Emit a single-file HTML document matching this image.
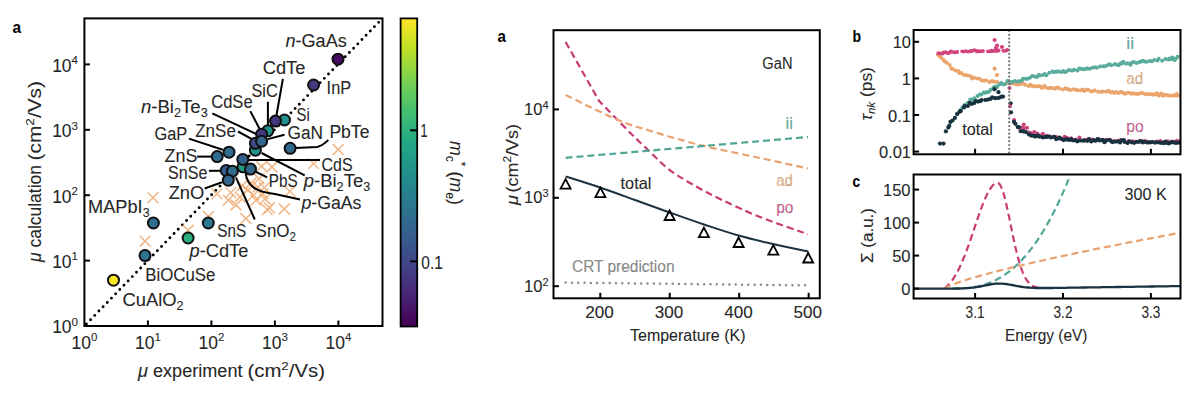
<!DOCTYPE html>
<html><head><meta charset="utf-8"><style>
html,body{margin:0;padding:0;background:#fff;}
svg{display:block;font-family:'Liberation Sans', sans-serif;} text{stroke:#262626;stroke-width:0.08px;}
</style></head><body>
<svg width="1200" height="397" viewBox="0 0 1200 397">
<rect width="1200" height="397" fill="#fff"/>
<text x="12.4" y="33.4" font-size="17" text-anchor="start" fill="#000" stroke="#000" textLength="8.6" lengthAdjust="spacingAndGlyphs" font-weight="bold">a</text>
<line x1="86.4" y1="324.0" x2="380.5" y2="20.4" stroke="#000" stroke-width="2.9" stroke-linecap="round" stroke-dasharray="0 6"/>
<path d="M147.6 192.29999999999998L158.4 203.1M147.6 203.1L158.4 192.29999999999998" stroke="#eea66c" stroke-width="1.5" stroke-opacity="0.8" fill="none"/>
<path d="M139.6 235.79999999999998L150.4 246.6M139.6 246.6L150.4 235.79999999999998" stroke="#eea66c" stroke-width="1.5" stroke-opacity="0.8" fill="none"/>
<path d="M182.7 224.9L193.5 235.70000000000002M182.7 235.70000000000002L193.5 224.9" stroke="#eea66c" stroke-width="1.5" stroke-opacity="0.8" fill="none"/>
<path d="M203.1 211.1L213.9 221.9M203.1 221.9L213.9 211.1" stroke="#eea66c" stroke-width="1.5" stroke-opacity="0.8" fill="none"/>
<path d="M332.8 144.1L343.59999999999997 154.9M332.8 154.9L343.59999999999997 144.1" stroke="#eea66c" stroke-width="1.5" stroke-opacity="0.8" fill="none"/>
<path d="M308.1 158.2L318.9 169.0M308.1 169.0L318.9 158.2" stroke="#eea66c" stroke-width="1.5" stroke-opacity="0.8" fill="none"/>
<path d="M266.6 161.6L277.4 172.4M266.6 172.4L277.4 161.6" stroke="#eea66c" stroke-width="1.5" stroke-opacity="0.8" fill="none"/>
<path d="M256.20000000000005 161.1L267.0 171.9M256.20000000000005 171.9L267.0 161.1" stroke="#eea66c" stroke-width="1.5" stroke-opacity="0.8" fill="none"/>
<path d="M253.70000000000002 173.4L264.5 184.20000000000002M253.70000000000002 184.20000000000002L264.5 173.4" stroke="#eea66c" stroke-width="1.5" stroke-opacity="0.8" fill="none"/>
<path d="M236.7 180.29999999999998L247.5 191.1M236.7 191.1L247.5 180.29999999999998" stroke="#eea66c" stroke-width="1.5" stroke-opacity="0.8" fill="none"/>
<path d="M242.4 184.7L253.20000000000002 195.5M242.4 195.5L253.20000000000002 184.7" stroke="#eea66c" stroke-width="1.5" stroke-opacity="0.8" fill="none"/>
<path d="M258.8 182.2L269.59999999999997 193.0M258.8 193.0L269.59999999999997 182.2" stroke="#eea66c" stroke-width="1.5" stroke-opacity="0.8" fill="none"/>
<path d="M248.1 189.79999999999998L258.9 200.6M248.1 200.6L258.9 189.79999999999998" stroke="#eea66c" stroke-width="1.5" stroke-opacity="0.8" fill="none"/>
<path d="M257.5 188.5L268.29999999999995 199.3M257.5 199.3L268.29999999999995 188.5" stroke="#eea66c" stroke-width="1.5" stroke-opacity="0.8" fill="none"/>
<path d="M250.6 194.79999999999998L261.4 205.6M250.6 205.6L261.4 194.79999999999998" stroke="#eea66c" stroke-width="1.5" stroke-opacity="0.8" fill="none"/>
<path d="M222.9 194.79999999999998L233.70000000000002 205.6M222.9 205.6L233.70000000000002 194.79999999999998" stroke="#eea66c" stroke-width="1.5" stroke-opacity="0.8" fill="none"/>
<path d="M211.5 188.5L222.3 199.3M211.5 199.3L222.3 188.5" stroke="#eea66c" stroke-width="1.5" stroke-opacity="0.8" fill="none"/>
<path d="M225.4 187.2L236.20000000000002 198.0M225.4 198.0L236.20000000000002 187.2" stroke="#eea66c" stroke-width="1.5" stroke-opacity="0.8" fill="none"/>
<path d="M261.90000000000003 204.2L272.7 215.0M261.90000000000003 215.0L272.7 204.2" stroke="#eea66c" stroke-width="1.5" stroke-opacity="0.8" fill="none"/>
<path d="M278.90000000000003 203.6L289.7 214.4M278.90000000000003 214.4L289.7 203.6" stroke="#eea66c" stroke-width="1.5" stroke-opacity="0.8" fill="none"/>
<path d="M240.5 213.1L251.3 223.9M240.5 223.9L251.3 213.1" stroke="#eea66c" stroke-width="1.5" stroke-opacity="0.8" fill="none"/>
<path d="M284.6 186.0L295.4 196.8M284.6 196.8L295.4 186.0" stroke="#eea66c" stroke-width="1.5" stroke-opacity="0.8" fill="none"/>
<path d="M264.1 202.5L274.9 213.3M264.1 213.3L274.9 202.5" stroke="#eea66c" stroke-width="1.5" stroke-opacity="0.8" fill="none"/>
<path d="M245.6 177.6L256.4 188.4M245.6 188.4L256.4 177.6" stroke="#eea66c" stroke-width="1.5" stroke-opacity="0.8" fill="none"/>
<path d="M252.6 181.6L263.4 192.4M252.6 192.4L263.4 181.6" stroke="#eea66c" stroke-width="1.5" stroke-opacity="0.8" fill="none"/>
<path d="M259.6 193.6L270.4 204.4M259.6 204.4L270.4 193.6" stroke="#eea66c" stroke-width="1.5" stroke-opacity="0.8" fill="none"/>
<path d="M234.6 191.6L245.4 202.4M234.6 202.4L245.4 191.6" stroke="#eea66c" stroke-width="1.5" stroke-opacity="0.8" fill="none"/>
<path d="M230.6 199.6L241.4 210.4M230.6 210.4L241.4 199.6" stroke="#eea66c" stroke-width="1.5" stroke-opacity="0.8" fill="none"/>
<line x1="212.3" y1="113.4" x2="256.8" y2="134.3" stroke="#000" stroke-width="2.0" />
<line x1="250.3" y1="111.1" x2="259.5" y2="128.7" stroke="#000" stroke-width="2.0" />
<line x1="267.9" y1="101.7" x2="267.9" y2="126" stroke="#000" stroke-width="2.0" />
<line x1="282.9" y1="78.8" x2="276.0" y2="118" stroke="#000" stroke-width="2.0" />
<line x1="238" y1="131.5" x2="251.9" y2="139.1" stroke="#000" stroke-width="2.0" />
<line x1="284.5" y1="134.7" x2="267.8" y2="139.1" stroke="#000" stroke-width="2.0" />
<line x1="188.9" y1="138.6" x2="222.7" y2="149.7" stroke="#000" stroke-width="2.0" />
<line x1="197.1" y1="156.6" x2="217" y2="156.6" stroke="#000" stroke-width="2.0" />
<line x1="208.9" y1="170.8" x2="226" y2="170.8" stroke="#000" stroke-width="2.0" />
<line x1="204.7" y1="188.5" x2="222" y2="182.3" stroke="#000" stroke-width="2.0" />
<line x1="250.5" y1="169.1" x2="267.1" y2="177.4" stroke="#000" stroke-width="2.0" />
<line x1="247" y1="159.9" x2="320" y2="159.9" stroke="#000" stroke-width="2.0" />
<line x1="261.6" y1="153" x2="304.7" y2="175.4" stroke="#000" stroke-width="2.0" />
<path d="M245.6 172.6 C247 186 256 192 275 194 L300 199.5" fill="none" stroke="#000" stroke-width="2.0" />
<line x1="235.9" y1="177.4" x2="254.8" y2="219.5" stroke="#000" stroke-width="2.0" />
<path d="M290 148.3 L317.2 146.9 C322 146 325 143 328.3 140" fill="none" stroke="#000" stroke-width="2.0" />
<circle cx="338" cy="59.2" r="5.5" fill="#450c5e" stroke="#111" stroke-width="2.0"/>
<circle cx="313.6" cy="85" r="5.5" fill="#433a82" stroke="#111" stroke-width="2.0"/>
<circle cx="284.5" cy="120" r="5.5" fill="#21918c" stroke="#111" stroke-width="2.0"/>
<circle cx="275.5" cy="121.1" r="5.5" fill="#44347e" stroke="#111" stroke-width="2.0"/>
<circle cx="267.8" cy="130.8" r="5.5" fill="#21918c" stroke="#111" stroke-width="2.0"/>
<circle cx="261.6" cy="134.3" r="5.5" fill="#433a82" stroke="#111" stroke-width="2.0"/>
<circle cx="255.4" cy="150.2" r="5.5" fill="#21918c" stroke="#111" stroke-width="2.0"/>
<circle cx="255.4" cy="143.3" r="5.5" fill="#3f4988" stroke="#111" stroke-width="2.0"/>
<circle cx="261.6" cy="141.2" r="5.5" fill="#32668d" stroke="#111" stroke-width="2.0"/>
<circle cx="290.1" cy="148.3" r="5.5" fill="#32668d" stroke="#111" stroke-width="2.0"/>
<circle cx="229" cy="152.2" r="5.5" fill="#306c8e" stroke="#111" stroke-width="2.0"/>
<circle cx="217.2" cy="156.6" r="5.5" fill="#306c8e" stroke="#111" stroke-width="2.0"/>
<circle cx="243" cy="166.8" r="5.5" fill="#229c88" stroke="#111" stroke-width="2.0"/>
<circle cx="242.8" cy="159.4" r="5.5" fill="#355f8d" stroke="#111" stroke-width="2.0"/>
<circle cx="250.5" cy="169.1" r="5.5" fill="#32668d" stroke="#111" stroke-width="2.0"/>
<circle cx="226.2" cy="170.5" r="5.5" fill="#355f8d" stroke="#111" stroke-width="2.0"/>
<circle cx="232.4" cy="171.2" r="5.5" fill="#306c8e" stroke="#111" stroke-width="2.0"/>
<circle cx="228.3" cy="180.2" r="5.5" fill="#32668d" stroke="#111" stroke-width="2.0"/>
<circle cx="153.4" cy="223" r="5.5" fill="#306c8e" stroke="#111" stroke-width="2.0"/>
<circle cx="208.3" cy="223" r="5.5" fill="#2a788e" stroke="#111" stroke-width="2.0"/>
<circle cx="188.1" cy="238" r="5.5" fill="#2caf7e" stroke="#111" stroke-width="2.0"/>
<circle cx="145" cy="255.6" r="5.5" fill="#2c738e" stroke="#111" stroke-width="2.0"/>
<circle cx="113.5" cy="280.2" r="5.5" fill="#fde725" stroke="#111" stroke-width="2.0"/>
<text x="285.4" y="46.5" font-size="17.5" text-anchor="start" fill="#262626" stroke="#262626" textLength="61.4" lengthAdjust="spacingAndGlyphs" ><tspan font-style="italic">n</tspan>-GaAs</text>
<text x="326.6" y="94" font-size="17.5" text-anchor="start" fill="#262626" stroke="#262626" textLength="24.5" lengthAdjust="spacingAndGlyphs" >InP</text>
<text x="262.7" y="73.5" font-size="17.5" text-anchor="start" fill="#262626" stroke="#262626" textLength="42.7" lengthAdjust="spacingAndGlyphs" >CdTe</text>
<text x="251.5" y="97.1" font-size="17.5" text-anchor="start" fill="#262626" stroke="#262626" textLength="26.2" lengthAdjust="spacingAndGlyphs" >SiC</text>
<text x="296.5" y="121.4" font-size="17.5" text-anchor="start" fill="#262626" stroke="#262626" textLength="13.2" lengthAdjust="spacingAndGlyphs" >Si</text>
<text x="211.2" y="107.9" font-size="17.5" text-anchor="start" fill="#262626" stroke="#262626" textLength="41.4" lengthAdjust="spacingAndGlyphs" >CdSe</text>
<text x="141.0" y="113.4" font-size="17.5" text-anchor="start" fill="#262626" stroke="#262626" textLength="66.8" lengthAdjust="spacingAndGlyphs" ><tspan font-style="italic">n</tspan>-Bi<tspan font-size="12" dy="4">2</tspan><tspan dy="-4">Te</tspan><tspan font-size="12" dy="4">3</tspan></text>
<text x="154.5" y="140.2" font-size="17.5" text-anchor="start" fill="#262626" stroke="#262626" textLength="32.8" lengthAdjust="spacingAndGlyphs" >GaP</text>
<text x="195.2" y="136.7" font-size="17.5" text-anchor="start" fill="#262626" stroke="#262626" textLength="40.7" lengthAdjust="spacingAndGlyphs" >ZnSe</text>
<text x="287.5" y="139" font-size="17.5" text-anchor="start" fill="#262626" stroke="#262626" textLength="35.5" lengthAdjust="spacingAndGlyphs" >GaN</text>
<text x="329.4" y="138.3" font-size="17.5" text-anchor="start" fill="#262626" stroke="#262626" textLength="40.0" lengthAdjust="spacingAndGlyphs" >PbTe</text>
<text x="164.5" y="161.9" font-size="17.5" text-anchor="start" fill="#262626" stroke="#262626" textLength="32.9" lengthAdjust="spacingAndGlyphs" >ZnS</text>
<text x="168.1" y="178.5" font-size="17.5" text-anchor="start" fill="#262626" stroke="#262626" textLength="39.2" lengthAdjust="spacingAndGlyphs" >SnSe</text>
<text x="321.6" y="171.2" font-size="17.5" text-anchor="start" fill="#262626" stroke="#262626" textLength="31.0" lengthAdjust="spacingAndGlyphs" >CdS</text>
<text x="168.7" y="198.8" font-size="17.5" text-anchor="start" fill="#262626" stroke="#262626" textLength="35.6" lengthAdjust="spacingAndGlyphs" >ZnO</text>
<text x="268.7" y="187.2" font-size="17.5" text-anchor="start" fill="#262626" stroke="#262626" textLength="28.9" lengthAdjust="spacingAndGlyphs" >PbS</text>
<text x="303.7" y="187.2" font-size="17.5" text-anchor="start" fill="#262626" stroke="#262626" textLength="66.6" lengthAdjust="spacingAndGlyphs" ><tspan font-style="italic">p</tspan>-Bi<tspan font-size="12" dy="4">2</tspan><tspan dy="-4">Te</tspan><tspan font-size="12" dy="4">3</tspan></text>
<text x="301.4" y="209" font-size="17.5" text-anchor="start" fill="#262626" stroke="#262626" textLength="60.1" lengthAdjust="spacingAndGlyphs" ><tspan font-style="italic">p</tspan>-GaAs</text>
<text x="88.0" y="212.8" font-size="17.5" text-anchor="start" fill="#262626" stroke="#262626" textLength="61.6" lengthAdjust="spacingAndGlyphs" >MAPbI<tspan font-size="12" dy="4">3</tspan></text>
<text x="217.2" y="237.4" font-size="17.5" text-anchor="start" fill="#262626" stroke="#262626" textLength="28.9" lengthAdjust="spacingAndGlyphs" >SnS</text>
<text x="255.6" y="236.8" font-size="17.5" text-anchor="start" fill="#262626" stroke="#262626" textLength="40.4" lengthAdjust="spacingAndGlyphs" >SnO<tspan font-size="12" dy="4">2</tspan></text>
<text x="189.5" y="257" font-size="17.5" text-anchor="start" fill="#262626" stroke="#262626" textLength="58.8" lengthAdjust="spacingAndGlyphs" ><tspan font-style="italic">p</tspan>-CdTe</text>
<text x="145.2" y="281" font-size="17.5" text-anchor="start" fill="#262626" stroke="#262626" textLength="70.2" lengthAdjust="spacingAndGlyphs" >BiOCuSe</text>
<text x="122.5" y="305.6" font-size="17.5" text-anchor="start" fill="#262626" stroke="#262626" textLength="61.1" lengthAdjust="spacingAndGlyphs" >CuAlO<tspan font-size="12" dy="4">2</tspan></text>
<rect x="84.4" y="18.4" width="298.1" height="307.6" fill="none" stroke="#000" stroke-width="2"/>
<line x1="147.9" y1="326.0" x2="147.9" y2="320.5" stroke="#000" stroke-width="2" />
<line x1="84.4" y1="260.6" x2="89.9" y2="260.6" stroke="#000" stroke-width="2" />
<line x1="211.4" y1="326.0" x2="211.4" y2="320.5" stroke="#000" stroke-width="2" />
<line x1="84.4" y1="195.2" x2="89.9" y2="195.2" stroke="#000" stroke-width="2" />
<line x1="274.9" y1="326.0" x2="274.9" y2="320.5" stroke="#000" stroke-width="2" />
<line x1="84.4" y1="129.79999999999998" x2="89.9" y2="129.79999999999998" stroke="#000" stroke-width="2" />
<line x1="338.4" y1="326.0" x2="338.4" y2="320.5" stroke="#000" stroke-width="2" />
<line x1="84.4" y1="64.39999999999998" x2="89.9" y2="64.39999999999998" stroke="#000" stroke-width="2" />
<text x="78" y="333.3" font-size="17.5" text-anchor="end" fill="#262626">10<tspan font-size="11.5" dy="-7.5">0</tspan></text>
<text x="84.4" y="348.7" font-size="17.5" text-anchor="middle" fill="#262626">10<tspan font-size="11.5" dy="-7.5">0</tspan></text>
<text x="78" y="267.90000000000003" font-size="17.5" text-anchor="end" fill="#262626">10<tspan font-size="11.5" dy="-7.5">1</tspan></text>
<text x="147.9" y="348.7" font-size="17.5" text-anchor="middle" fill="#262626">10<tspan font-size="11.5" dy="-7.5">1</tspan></text>
<text x="78" y="202.5" font-size="17.5" text-anchor="end" fill="#262626">10<tspan font-size="11.5" dy="-7.5">2</tspan></text>
<text x="211.4" y="348.7" font-size="17.5" text-anchor="middle" fill="#262626">10<tspan font-size="11.5" dy="-7.5">2</tspan></text>
<text x="78" y="137.1" font-size="17.5" text-anchor="end" fill="#262626">10<tspan font-size="11.5" dy="-7.5">3</tspan></text>
<text x="274.9" y="348.7" font-size="17.5" text-anchor="middle" fill="#262626">10<tspan font-size="11.5" dy="-7.5">3</tspan></text>
<text x="78" y="71.69999999999997" font-size="17.5" text-anchor="end" fill="#262626">10<tspan font-size="11.5" dy="-7.5">4</tspan></text>
<text x="338.4" y="348.7" font-size="17.5" text-anchor="middle" fill="#262626">10<tspan font-size="11.5" dy="-7.5">4</tspan></text>
<text x="138" y="377.4" font-size="17.5" text-anchor="start" fill="#262626" stroke="#262626" textLength="104.5" lengthAdjust="spacingAndGlyphs" ><tspan font-style="italic">μ</tspan> experiment</text>
<text x="247.5" y="377.4" font-size="17.5" text-anchor="start" fill="#262626" stroke="#262626" textLength="77.5" lengthAdjust="spacingAndGlyphs" >(cm<tspan font-size="11.5" dy="-7.5">2</tspan><tspan dy="7.5">/Vs)</tspan></text>
<text transform="translate(41,262) rotate(-90)" x="0" y="0" font-size="17.5" fill="#262626" textLength="97" lengthAdjust="spacingAndGlyphs"><tspan font-style="italic">μ</tspan> calculation</text>
<text transform="translate(41,160.5) rotate(-90)" x="0" y="0" font-size="17.5" fill="#262626" textLength="79.5" lengthAdjust="spacingAndGlyphs">(cm<tspan font-size="11.5" dy="-7.5">2</tspan><tspan dy="7.5">/Vs)</tspan></text>
<defs><linearGradient id="vir" x1="0" y1="1" x2="0" y2="0"><stop offset="0.0" stop-color="#440154"/><stop offset="0.1" stop-color="#482475"/><stop offset="0.2" stop-color="#414487"/><stop offset="0.3" stop-color="#355f8d"/><stop offset="0.4" stop-color="#2a788e"/><stop offset="0.5" stop-color="#21918c"/><stop offset="0.6" stop-color="#22a884"/><stop offset="0.7" stop-color="#44bf70"/><stop offset="0.8" stop-color="#7ad151"/><stop offset="0.9" stop-color="#bddf26"/><stop offset="1.0" stop-color="#fde725"/></linearGradient></defs>
<rect x="400.6" y="18.4" width="16.599999999999966" height="308.1" fill="url(#vir)" stroke="#000" stroke-width="1.8"/>
<line x1="410.2" y1="130.3" x2="417.2" y2="130.3" stroke="#000" stroke-width="2" />
<line x1="410.2" y1="261.3" x2="417.2" y2="261.3" stroke="#000" stroke-width="2" />
<text x="420.5" y="136.8" font-size="17.5" text-anchor="start" fill="#262626" stroke="#262626" textLength="7" lengthAdjust="spacingAndGlyphs" >1</text>
<text x="421.3" y="268.5" font-size="17.5" text-anchor="start" fill="#262626" stroke="#262626" textLength="21.5" lengthAdjust="spacingAndGlyphs" >0.1</text>
<text transform="translate(449.5,141) rotate(90)" x="0" y="0" font-size="17.5" fill="#262626" textLength="64" lengthAdjust="spacingAndGlyphs"><tspan font-style="italic">m</tspan><tspan font-size="12" dy="4">c</tspan><tspan font-size="12" dy="-11">*</tspan><tspan dy="7"> (</tspan><tspan font-style="italic">m</tspan><tspan font-size="12" dy="4">e</tspan><tspan dy="-4">)</tspan></text>
<text x="497.5" y="42.4" font-size="16.5" text-anchor="start" fill="#000" stroke="#000" textLength="8.4" lengthAdjust="spacingAndGlyphs" font-weight="bold">a</text>
<path d="M565.6 42 L599.1 101  C604.4 106.4 622.0 124.6 630.6 133.2 C639.2 141.8 644.5 146.7 650.8 152.7 C657.1 158.7 661.9 163.9 668.4 169.0 C674.9 174.1 681.4 178.0 690.0 183.0 C698.6 188.0 708.3 193.3 720.0 199.0 C731.7 204.7 745.3 211.1 760.0 217.0 C774.7 222.9 800.0 231.3 808.0 234.2" fill="none" stroke="#c83c73" stroke-width="2.2" stroke-dasharray="7 4"/>
<path d="M565.6 95 C574.3 99.2 603.8 114.0 618.0 120.0 C632.2 126.0 637.1 126.8 650.8 131.0 C664.5 135.2 681.8 140.5 700.0 145.0 C718.2 149.5 742.0 154.1 760.0 158.0 C778.0 161.9 800.0 166.8 808.0 168.5" fill="none" stroke="#e9a26f" stroke-width="2.2" stroke-dasharray="7 4"/>
<path d="M565.6 157.8 C588.0 155.9 659.6 149.8 700.0 146.3 C740.4 142.8 790.0 138.6 808.0 137.0" fill="none" stroke="#4fa596" stroke-width="2.2" stroke-dasharray="7 4"/>
<path d="M565.6 176.5 C571.3 178.3 588.4 183.6 600.0 187.5 C611.6 191.4 623.4 195.8 635.0 200.0 C646.6 204.2 658.1 208.4 669.6 212.5 C681.1 216.6 692.5 220.7 704.0 224.5 C715.5 228.3 727.0 232.2 738.5 235.5 C750.0 238.8 761.3 241.3 772.9 244.0 C784.5 246.7 802.3 250.2 808.2 251.5" fill="none" stroke="#1b3242" stroke-width="2.0" />
<path d="M565.6 282.6 L808 285.4" stroke="#8a8a8a" stroke-width="2.5" stroke-linecap="round" stroke-dasharray="0 6.3" fill="none"/>
<path d="M565.6 179.20000000000002 L570.6 188.70000000000002 L560.6 188.70000000000002 Z" fill="none" stroke="#000" stroke-width="1.8" stroke-linejoin="miter"/>
<path d="M600.4 187.60000000000002 L605.4 197.10000000000002 L595.4 197.10000000000002 Z" fill="none" stroke="#000" stroke-width="1.8" stroke-linejoin="miter"/>
<path d="M669.6 210.5 L674.6 220.0 L664.6 220.0 Z" fill="none" stroke="#000" stroke-width="1.8" stroke-linejoin="miter"/>
<path d="M703.9 227.70000000000002 L708.9 237.20000000000002 L698.9 237.20000000000002 Z" fill="none" stroke="#000" stroke-width="1.8" stroke-linejoin="miter"/>
<path d="M738.6 237.5 L743.6 247.0 L733.6 247.0 Z" fill="none" stroke="#000" stroke-width="1.8" stroke-linejoin="miter"/>
<path d="M773.3 245.20000000000002 L778.3 254.70000000000002 L768.3 254.70000000000002 Z" fill="none" stroke="#000" stroke-width="1.8" stroke-linejoin="miter"/>
<path d="M808.2 253.0 L813.2 262.5 L803.2 262.5 Z" fill="none" stroke="#000" stroke-width="1.8" stroke-linejoin="miter"/>
<rect x="553.5" y="30.2" width="266.29999999999995" height="268.1" fill="none" stroke="#000" stroke-width="2"/>
<line x1="600.3" y1="298.3" x2="600.3" y2="292.8" stroke="#000" stroke-width="2" />
<text x="599.5" y="318.3" font-size="16.5" text-anchor="middle" fill="#262626" stroke="#262626" textLength="28.5" lengthAdjust="spacingAndGlyphs" >200</text>
<line x1="669.75" y1="298.3" x2="669.75" y2="292.8" stroke="#000" stroke-width="2" />
<text x="668.95" y="318.3" font-size="16.5" text-anchor="middle" fill="#262626" stroke="#262626" textLength="28.5" lengthAdjust="spacingAndGlyphs" >300</text>
<line x1="739.1999999999999" y1="298.3" x2="739.1999999999999" y2="292.8" stroke="#000" stroke-width="2" />
<text x="738.4" y="318.3" font-size="16.5" text-anchor="middle" fill="#262626" stroke="#262626" textLength="28.5" lengthAdjust="spacingAndGlyphs" >400</text>
<line x1="808.65" y1="298.3" x2="808.65" y2="292.8" stroke="#000" stroke-width="2" />
<text x="807.85" y="318.3" font-size="16.5" text-anchor="middle" fill="#262626" stroke="#262626" textLength="28.5" lengthAdjust="spacingAndGlyphs" >500</text>
<line x1="553.5" y1="286.2" x2="559.0" y2="286.2" stroke="#000" stroke-width="2" />
<text x="548.5" y="291.7" font-size="16.5" text-anchor="end" fill="#262626">10<tspan font-size="11" dy="-6">2</tspan></text>
<line x1="553.5" y1="197.79999999999998" x2="559.0" y2="197.79999999999998" stroke="#000" stroke-width="2" />
<text x="548.5" y="203.29999999999998" font-size="16.5" text-anchor="end" fill="#262626">10<tspan font-size="11" dy="-6">3</tspan></text>
<line x1="553.5" y1="109.39999999999998" x2="559.0" y2="109.39999999999998" stroke="#000" stroke-width="2" />
<text x="548.5" y="114.89999999999998" font-size="16.5" text-anchor="end" fill="#262626">10<tspan font-size="11" dy="-6">4</tspan></text>
<text x="630" y="340.5" font-size="16.5" text-anchor="start" fill="#262626" stroke="#262626" textLength="115.5" lengthAdjust="spacingAndGlyphs" >Temperature (K)</text>
<text transform="translate(517.5,205) rotate(-90)" x="0" y="0" font-size="16.5" fill="#262626" textLength="10" lengthAdjust="spacingAndGlyphs" font-style="italic">μ</text>
<text transform="translate(517.5,192.5) rotate(-90)" x="0" y="0" font-size="16.5" fill="#262626" textLength="68.5" lengthAdjust="spacingAndGlyphs">(cm<tspan font-size="11" dy="-6.5">2</tspan><tspan dy="6.5">/Vs)</tspan></text>
<text x="762.3" y="68.9" font-size="16.5" text-anchor="start" fill="#262626" stroke="#262626" textLength="30.2" lengthAdjust="spacingAndGlyphs" >GaN</text>
<text x="620.6" y="188.7" font-size="16.5" text-anchor="start" fill="#262626" stroke="#262626" textLength="30.8" lengthAdjust="spacingAndGlyphs" >total</text>
<text x="785.6" y="129.3" font-size="16.5" text-anchor="start" fill="#6eb0a4" stroke="#6eb0a4" textLength="7.5" lengthAdjust="spacingAndGlyphs" >ii</text>
<text x="776.2" y="186.2" font-size="16.5" text-anchor="start" fill="#e6b48b" stroke="#e6b48b" textLength="16.8" lengthAdjust="spacingAndGlyphs" >ad</text>
<text x="776.2" y="213" font-size="16.5" text-anchor="start" fill="#cf6596" stroke="#cf6596" textLength="17.2" lengthAdjust="spacingAndGlyphs" >po</text>
<text x="572" y="271.7" font-size="16.5" text-anchor="start" fill="#8c8c8c" stroke="#8c8c8c" textLength="102.5" lengthAdjust="spacingAndGlyphs" >CRT prediction</text>
<text x="852.4" y="42.1" font-size="16" text-anchor="start" fill="#000" stroke="#000" textLength="8.6" lengthAdjust="spacingAndGlyphs" font-weight="bold">b</text>
<text x="852.6" y="187.4" font-size="16.5" text-anchor="start" fill="#000" stroke="#000" textLength="7.6" lengthAdjust="spacingAndGlyphs" font-weight="bold">c</text>
<circle cx="937.9" cy="54.5" r="2.0" fill="#eba56c"/>
<circle cx="939.5" cy="56.2" r="2.0" fill="#eba56c"/>
<circle cx="941.1" cy="57.4" r="2.0" fill="#eba56c"/>
<circle cx="943.2" cy="59.7" r="2.0" fill="#eba56c"/>
<circle cx="944.9" cy="61.4" r="2.0" fill="#eba56c"/>
<circle cx="946.8" cy="62.8" r="2.0" fill="#eba56c"/>
<circle cx="949.7" cy="64.9" r="2.0" fill="#eba56c"/>
<circle cx="951.4" cy="68.4" r="2.0" fill="#eba56c"/>
<circle cx="952.6" cy="69.0" r="2.0" fill="#eba56c"/>
<circle cx="955.4" cy="70.5" r="2.0" fill="#eba56c"/>
<circle cx="958.1" cy="71.1" r="2.0" fill="#eba56c"/>
<circle cx="959.1" cy="72.9" r="2.0" fill="#eba56c"/>
<circle cx="961.3" cy="73.0" r="2.0" fill="#eba56c"/>
<circle cx="963.4" cy="74.7" r="2.0" fill="#eba56c"/>
<circle cx="965.6" cy="75.0" r="2.0" fill="#eba56c"/>
<circle cx="967.7" cy="75.4" r="2.0" fill="#eba56c"/>
<circle cx="970.7" cy="76.3" r="2.0" fill="#eba56c"/>
<circle cx="972.0" cy="78.6" r="2.0" fill="#eba56c"/>
<circle cx="974.4" cy="77.7" r="2.0" fill="#eba56c"/>
<circle cx="977.4" cy="78.6" r="2.0" fill="#eba56c"/>
<circle cx="979.8" cy="78.9" r="2.0" fill="#eba56c"/>
<circle cx="981.9" cy="80.5" r="2.0" fill="#eba56c"/>
<circle cx="984.3" cy="80.7" r="2.0" fill="#eba56c"/>
<circle cx="986.1" cy="80.3" r="2.0" fill="#eba56c"/>
<circle cx="989.2" cy="82.0" r="2.0" fill="#eba56c"/>
<circle cx="990.8" cy="81.3" r="2.0" fill="#eba56c"/>
<circle cx="993.0" cy="81.3" r="2.0" fill="#eba56c"/>
<circle cx="994.5" cy="81.8" r="2.0" fill="#eba56c"/>
<circle cx="997.3" cy="81.9" r="2.0" fill="#eba56c"/>
<circle cx="1006.6" cy="83.0" r="2.0" fill="#eba56c"/>
<circle cx="1009.3" cy="82.7" r="2.0" fill="#eba56c"/>
<circle cx="1011.3" cy="83.6" r="2.0" fill="#eba56c"/>
<circle cx="1013.7" cy="83.6" r="2.0" fill="#eba56c"/>
<circle cx="1015.7" cy="84.0" r="2.0" fill="#eba56c"/>
<circle cx="1017.9" cy="84.5" r="2.0" fill="#eba56c"/>
<circle cx="1020.1" cy="84.2" r="2.0" fill="#eba56c"/>
<circle cx="1023.2" cy="83.8" r="2.0" fill="#eba56c"/>
<circle cx="1025.2" cy="84.8" r="2.0" fill="#eba56c"/>
<circle cx="1028.7" cy="85.9" r="2.0" fill="#eba56c"/>
<circle cx="1030.4" cy="84.8" r="2.0" fill="#eba56c"/>
<circle cx="1032.1" cy="85.9" r="2.0" fill="#eba56c"/>
<circle cx="1033.4" cy="86.0" r="2.0" fill="#eba56c"/>
<circle cx="1035.2" cy="86.5" r="2.0" fill="#eba56c"/>
<circle cx="1037.0" cy="86.3" r="2.0" fill="#eba56c"/>
<circle cx="1038.7" cy="86.3" r="2.0" fill="#eba56c"/>
<circle cx="1040.1" cy="86.5" r="2.0" fill="#eba56c"/>
<circle cx="1041.9" cy="88.0" r="2.0" fill="#eba56c"/>
<circle cx="1044.3" cy="85.9" r="2.0" fill="#eba56c"/>
<circle cx="1045.5" cy="87.2" r="2.0" fill="#eba56c"/>
<circle cx="1048.3" cy="88.2" r="2.0" fill="#eba56c"/>
<circle cx="1050.3" cy="87.7" r="2.0" fill="#eba56c"/>
<circle cx="1051.8" cy="88.1" r="2.0" fill="#eba56c"/>
<circle cx="1054.8" cy="88.8" r="2.0" fill="#eba56c"/>
<circle cx="1056.1" cy="87.8" r="2.0" fill="#eba56c"/>
<circle cx="1058.1" cy="87.6" r="2.0" fill="#eba56c"/>
<circle cx="1059.5" cy="88.4" r="2.0" fill="#eba56c"/>
<circle cx="1062.9" cy="89.4" r="2.0" fill="#eba56c"/>
<circle cx="1065.4" cy="88.2" r="2.0" fill="#eba56c"/>
<circle cx="1067.0" cy="89.0" r="2.0" fill="#eba56c"/>
<circle cx="1068.2" cy="89.3" r="2.0" fill="#eba56c"/>
<circle cx="1070.3" cy="89.9" r="2.0" fill="#eba56c"/>
<circle cx="1073.5" cy="89.3" r="2.0" fill="#eba56c"/>
<circle cx="1076.0" cy="89.7" r="2.0" fill="#eba56c"/>
<circle cx="1077.5" cy="90.2" r="2.0" fill="#eba56c"/>
<circle cx="1080.5" cy="90.3" r="2.0" fill="#eba56c"/>
<circle cx="1082.9" cy="89.6" r="2.0" fill="#eba56c"/>
<circle cx="1084.2" cy="91.0" r="2.0" fill="#eba56c"/>
<circle cx="1086.7" cy="89.8" r="2.0" fill="#eba56c"/>
<circle cx="1088.6" cy="90.0" r="2.0" fill="#eba56c"/>
<circle cx="1091.3" cy="91.5" r="2.0" fill="#eba56c"/>
<circle cx="1093.8" cy="90.7" r="2.0" fill="#eba56c"/>
<circle cx="1094.7" cy="90.6" r="2.0" fill="#eba56c"/>
<circle cx="1098.1" cy="91.7" r="2.0" fill="#eba56c"/>
<circle cx="1101.1" cy="92.1" r="2.0" fill="#eba56c"/>
<circle cx="1102.9" cy="91.5" r="2.0" fill="#eba56c"/>
<circle cx="1106.0" cy="91.7" r="2.0" fill="#eba56c"/>
<circle cx="1108.5" cy="90.7" r="2.0" fill="#eba56c"/>
<circle cx="1110.7" cy="92.4" r="2.0" fill="#eba56c"/>
<circle cx="1112.5" cy="92.1" r="2.0" fill="#eba56c"/>
<circle cx="1114.4" cy="92.9" r="2.0" fill="#eba56c"/>
<circle cx="1116.3" cy="91.9" r="2.0" fill="#eba56c"/>
<circle cx="1118.7" cy="92.9" r="2.0" fill="#eba56c"/>
<circle cx="1120.8" cy="91.8" r="2.0" fill="#eba56c"/>
<circle cx="1122.3" cy="92.6" r="2.0" fill="#eba56c"/>
<circle cx="1124.5" cy="93.7" r="2.0" fill="#eba56c"/>
<circle cx="1126.4" cy="92.9" r="2.0" fill="#eba56c"/>
<circle cx="1129.0" cy="92.7" r="2.0" fill="#eba56c"/>
<circle cx="1131.5" cy="93.7" r="2.0" fill="#eba56c"/>
<circle cx="1132.8" cy="93.2" r="2.0" fill="#eba56c"/>
<circle cx="1135.5" cy="93.7" r="2.0" fill="#eba56c"/>
<circle cx="1138.0" cy="93.9" r="2.0" fill="#eba56c"/>
<circle cx="1140.2" cy="93.2" r="2.0" fill="#eba56c"/>
<circle cx="1142.5" cy="93.0" r="2.0" fill="#eba56c"/>
<circle cx="1144.9" cy="94.0" r="2.0" fill="#eba56c"/>
<circle cx="1147.4" cy="94.3" r="2.0" fill="#eba56c"/>
<circle cx="1149.8" cy="93.9" r="2.0" fill="#eba56c"/>
<circle cx="1151.9" cy="94.6" r="2.0" fill="#eba56c"/>
<circle cx="1153.4" cy="94.6" r="2.0" fill="#eba56c"/>
<circle cx="1155.2" cy="94.6" r="2.0" fill="#eba56c"/>
<circle cx="1156.9" cy="93.2" r="2.0" fill="#eba56c"/>
<circle cx="1158.9" cy="95.6" r="2.0" fill="#eba56c"/>
<circle cx="1161.2" cy="93.6" r="2.0" fill="#eba56c"/>
<circle cx="1162.9" cy="95.8" r="2.0" fill="#eba56c"/>
<circle cx="1164.5" cy="94.7" r="2.0" fill="#eba56c"/>
<circle cx="1166.6" cy="95.1" r="2.0" fill="#eba56c"/>
<circle cx="1168.9" cy="95.5" r="2.0" fill="#eba56c"/>
<circle cx="1171.6" cy="95.7" r="2.0" fill="#eba56c"/>
<circle cx="1174.0" cy="95.3" r="2.0" fill="#eba56c"/>
<circle cx="1175.9" cy="95.7" r="2.0" fill="#eba56c"/>
<circle cx="1176.8" cy="94.0" r="2.0" fill="#eba56c"/>
<circle cx="1178.6" cy="95.5" r="2.0" fill="#eba56c"/>
<circle cx="938.3" cy="53.2" r="1.9" fill="#d1447c"/>
<circle cx="940.3" cy="53.5" r="1.9" fill="#d1447c"/>
<circle cx="942.8" cy="53.6" r="1.9" fill="#d1447c"/>
<circle cx="943.6" cy="52.5" r="1.9" fill="#d1447c"/>
<circle cx="945.6" cy="52.2" r="1.9" fill="#d1447c"/>
<circle cx="947.7" cy="53.2" r="1.9" fill="#d1447c"/>
<circle cx="949.1" cy="52.9" r="1.9" fill="#d1447c"/>
<circle cx="950.6" cy="51.3" r="1.9" fill="#d1447c"/>
<circle cx="952.1" cy="51.9" r="1.9" fill="#d1447c"/>
<circle cx="954.2" cy="52.3" r="1.9" fill="#d1447c"/>
<circle cx="955.4" cy="52.2" r="1.9" fill="#d1447c"/>
<circle cx="957.2" cy="52.0" r="1.9" fill="#d1447c"/>
<circle cx="962.2" cy="51.3" r="1.9" fill="#d1447c"/>
<circle cx="963.8" cy="51.6" r="1.9" fill="#d1447c"/>
<circle cx="965.7" cy="51.1" r="1.9" fill="#d1447c"/>
<circle cx="968.1" cy="51.7" r="1.9" fill="#d1447c"/>
<circle cx="970.7" cy="51.0" r="1.9" fill="#d1447c"/>
<circle cx="972.2" cy="50.9" r="1.9" fill="#d1447c"/>
<circle cx="974.3" cy="50.2" r="1.9" fill="#d1447c"/>
<circle cx="976.4" cy="50.9" r="1.9" fill="#d1447c"/>
<circle cx="977.3" cy="51.5" r="1.9" fill="#d1447c"/>
<circle cx="979.1" cy="51.2" r="1.9" fill="#d1447c"/>
<circle cx="980.5" cy="51.4" r="1.9" fill="#d1447c"/>
<circle cx="983.0" cy="51.0" r="1.9" fill="#d1447c"/>
<circle cx="987.9" cy="51.3" r="1.9" fill="#d1447c"/>
<circle cx="989.9" cy="51.4" r="1.9" fill="#d1447c"/>
<circle cx="991.5" cy="50.7" r="1.9" fill="#d1447c"/>
<circle cx="992.7" cy="51.2" r="1.9" fill="#d1447c"/>
<circle cx="994.8" cy="50.7" r="1.9" fill="#d1447c"/>
<circle cx="996.3" cy="51.0" r="1.9" fill="#d1447c"/>
<circle cx="997.6" cy="50.6" r="1.9" fill="#d1447c"/>
<circle cx="998.5" cy="50.5" r="1.9" fill="#d1447c"/>
<circle cx="1003.3" cy="50.8" r="1.9" fill="#d1447c"/>
<circle cx="1005.5" cy="50.7" r="1.9" fill="#d1447c"/>
<circle cx="1007.4" cy="50.0" r="1.9" fill="#d1447c"/>
<circle cx="994.6" cy="40.0" r="2.1" fill="#d1447c"/>
<circle cx="997.0" cy="45.6" r="2.1" fill="#d1447c"/>
<circle cx="996.0" cy="48.0" r="2.1" fill="#d1447c"/>
<circle cx="1002.0" cy="47.0" r="2.1" fill="#d1447c"/>
<circle cx="957.2" cy="113.9" r="2.0" fill="#59ac9c"/>
<circle cx="960.1" cy="110.3" r="2.0" fill="#59ac9c"/>
<circle cx="962.4" cy="107.6" r="2.0" fill="#59ac9c"/>
<circle cx="964.5" cy="104.9" r="2.0" fill="#59ac9c"/>
<circle cx="967.5" cy="103.1" r="2.0" fill="#59ac9c"/>
<circle cx="970.3" cy="99.4" r="2.0" fill="#59ac9c"/>
<circle cx="972.5" cy="99.4" r="2.0" fill="#59ac9c"/>
<circle cx="974.3" cy="98.2" r="2.0" fill="#59ac9c"/>
<circle cx="977.5" cy="96.1" r="2.0" fill="#59ac9c"/>
<circle cx="979.9" cy="94.6" r="2.0" fill="#59ac9c"/>
<circle cx="981.5" cy="94.6" r="2.0" fill="#59ac9c"/>
<circle cx="983.7" cy="92.5" r="2.0" fill="#59ac9c"/>
<circle cx="985.2" cy="92.7" r="2.0" fill="#59ac9c"/>
<circle cx="986.9" cy="92.2" r="2.0" fill="#59ac9c"/>
<circle cx="988.6" cy="92.1" r="2.0" fill="#59ac9c"/>
<circle cx="990.4" cy="90.1" r="2.0" fill="#59ac9c"/>
<circle cx="993.2" cy="87.9" r="2.0" fill="#59ac9c"/>
<circle cx="994.1" cy="87.1" r="2.0" fill="#59ac9c"/>
<circle cx="996.4" cy="86.5" r="2.0" fill="#59ac9c"/>
<circle cx="997.2" cy="86.9" r="2.0" fill="#59ac9c"/>
<circle cx="999.4" cy="84.6" r="2.0" fill="#59ac9c"/>
<circle cx="1001.2" cy="82.9" r="2.0" fill="#59ac9c"/>
<circle cx="1003.3" cy="84.4" r="2.0" fill="#59ac9c"/>
<circle cx="1005.3" cy="84.0" r="2.0" fill="#59ac9c"/>
<circle cx="1007.5" cy="81.1" r="2.0" fill="#59ac9c"/>
<circle cx="1010.9" cy="82.2" r="2.0" fill="#59ac9c"/>
<circle cx="1012.5" cy="82.0" r="2.0" fill="#59ac9c"/>
<circle cx="1014.8" cy="80.9" r="2.0" fill="#59ac9c"/>
<circle cx="1017.7" cy="81.6" r="2.0" fill="#59ac9c"/>
<circle cx="1019.8" cy="81.3" r="2.0" fill="#59ac9c"/>
<circle cx="1021.9" cy="80.4" r="2.0" fill="#59ac9c"/>
<circle cx="1023.1" cy="78.8" r="2.0" fill="#59ac9c"/>
<circle cx="1025.6" cy="78.7" r="2.0" fill="#59ac9c"/>
<circle cx="1027.4" cy="78.7" r="2.0" fill="#59ac9c"/>
<circle cx="1030.0" cy="77.7" r="2.0" fill="#59ac9c"/>
<circle cx="1032.2" cy="75.9" r="2.0" fill="#59ac9c"/>
<circle cx="1034.8" cy="76.5" r="2.0" fill="#59ac9c"/>
<circle cx="1036.9" cy="76.9" r="2.0" fill="#59ac9c"/>
<circle cx="1038.7" cy="75.1" r="2.0" fill="#59ac9c"/>
<circle cx="1039.9" cy="75.5" r="2.0" fill="#59ac9c"/>
<circle cx="1042.9" cy="75.1" r="2.0" fill="#59ac9c"/>
<circle cx="1044.8" cy="73.9" r="2.0" fill="#59ac9c"/>
<circle cx="1046.4" cy="75.3" r="2.0" fill="#59ac9c"/>
<circle cx="1049.3" cy="72.7" r="2.0" fill="#59ac9c"/>
<circle cx="1052.5" cy="71.5" r="2.0" fill="#59ac9c"/>
<circle cx="1053.7" cy="72.1" r="2.0" fill="#59ac9c"/>
<circle cx="1055.9" cy="71.8" r="2.0" fill="#59ac9c"/>
<circle cx="1057.4" cy="71.5" r="2.0" fill="#59ac9c"/>
<circle cx="1058.6" cy="71.5" r="2.0" fill="#59ac9c"/>
<circle cx="1061.6" cy="72.0" r="2.0" fill="#59ac9c"/>
<circle cx="1063.1" cy="70.9" r="2.0" fill="#59ac9c"/>
<circle cx="1064.8" cy="71.9" r="2.0" fill="#59ac9c"/>
<circle cx="1066.4" cy="71.5" r="2.0" fill="#59ac9c"/>
<circle cx="1068.7" cy="70.1" r="2.0" fill="#59ac9c"/>
<circle cx="1071.4" cy="70.5" r="2.0" fill="#59ac9c"/>
<circle cx="1072.8" cy="70.4" r="2.0" fill="#59ac9c"/>
<circle cx="1074.2" cy="69.7" r="2.0" fill="#59ac9c"/>
<circle cx="1077.5" cy="70.4" r="2.0" fill="#59ac9c"/>
<circle cx="1079.2" cy="68.5" r="2.0" fill="#59ac9c"/>
<circle cx="1080.9" cy="68.8" r="2.0" fill="#59ac9c"/>
<circle cx="1083.4" cy="69.3" r="2.0" fill="#59ac9c"/>
<circle cx="1085.8" cy="69.0" r="2.0" fill="#59ac9c"/>
<circle cx="1087.0" cy="68.2" r="2.0" fill="#59ac9c"/>
<circle cx="1089.6" cy="68.7" r="2.0" fill="#59ac9c"/>
<circle cx="1092.4" cy="67.7" r="2.0" fill="#59ac9c"/>
<circle cx="1095.0" cy="67.2" r="2.0" fill="#59ac9c"/>
<circle cx="1096.9" cy="67.7" r="2.0" fill="#59ac9c"/>
<circle cx="1100.0" cy="66.6" r="2.0" fill="#59ac9c"/>
<circle cx="1103.0" cy="66.2" r="2.0" fill="#59ac9c"/>
<circle cx="1104.2" cy="66.4" r="2.0" fill="#59ac9c"/>
<circle cx="1107.0" cy="65.5" r="2.0" fill="#59ac9c"/>
<circle cx="1109.3" cy="64.3" r="2.0" fill="#59ac9c"/>
<circle cx="1111.3" cy="65.2" r="2.0" fill="#59ac9c"/>
<circle cx="1114.7" cy="64.2" r="2.0" fill="#59ac9c"/>
<circle cx="1116.1" cy="64.4" r="2.0" fill="#59ac9c"/>
<circle cx="1118.7" cy="65.2" r="2.0" fill="#59ac9c"/>
<circle cx="1120.5" cy="63.3" r="2.0" fill="#59ac9c"/>
<circle cx="1122.2" cy="63.4" r="2.0" fill="#59ac9c"/>
<circle cx="1123.3" cy="61.8" r="2.0" fill="#59ac9c"/>
<circle cx="1126.2" cy="63.8" r="2.0" fill="#59ac9c"/>
<circle cx="1127.9" cy="63.2" r="2.0" fill="#59ac9c"/>
<circle cx="1130.5" cy="64.8" r="2.0" fill="#59ac9c"/>
<circle cx="1132.0" cy="62.4" r="2.0" fill="#59ac9c"/>
<circle cx="1133.9" cy="61.9" r="2.0" fill="#59ac9c"/>
<circle cx="1136.5" cy="62.9" r="2.0" fill="#59ac9c"/>
<circle cx="1138.9" cy="62.2" r="2.0" fill="#59ac9c"/>
<circle cx="1140.7" cy="61.8" r="2.0" fill="#59ac9c"/>
<circle cx="1142.5" cy="60.8" r="2.0" fill="#59ac9c"/>
<circle cx="1144.3" cy="61.6" r="2.0" fill="#59ac9c"/>
<circle cx="1146.5" cy="61.8" r="2.0" fill="#59ac9c"/>
<circle cx="1149.7" cy="61.1" r="2.0" fill="#59ac9c"/>
<circle cx="1151.9" cy="61.2" r="2.0" fill="#59ac9c"/>
<circle cx="1154.4" cy="60.0" r="2.0" fill="#59ac9c"/>
<circle cx="1157.5" cy="60.4" r="2.0" fill="#59ac9c"/>
<circle cx="1158.8" cy="58.7" r="2.0" fill="#59ac9c"/>
<circle cx="1162.2" cy="60.7" r="2.0" fill="#59ac9c"/>
<circle cx="1165.5" cy="59.1" r="2.0" fill="#59ac9c"/>
<circle cx="1168.3" cy="59.5" r="2.0" fill="#59ac9c"/>
<circle cx="1169.6" cy="58.4" r="2.0" fill="#59ac9c"/>
<circle cx="1171.1" cy="59.2" r="2.0" fill="#59ac9c"/>
<circle cx="1172.5" cy="57.4" r="2.0" fill="#59ac9c"/>
<circle cx="1174.6" cy="59.9" r="2.0" fill="#59ac9c"/>
<circle cx="1175.8" cy="58.8" r="2.0" fill="#59ac9c"/>
<circle cx="1177.6" cy="56.8" r="2.0" fill="#59ac9c"/>
<circle cx="994.6" cy="68.6" r="2.1" fill="#eba56c"/>
<circle cx="997.0" cy="75.0" r="2.1" fill="#eba56c"/>
<circle cx="945.9" cy="131.3" r="2.1" fill="#17313f"/>
<circle cx="948.3" cy="127.4" r="2.1" fill="#17313f"/>
<circle cx="949.3" cy="125.8" r="2.1" fill="#17313f"/>
<circle cx="950.4" cy="121.9" r="2.1" fill="#17313f"/>
<circle cx="952.5" cy="120.5" r="2.1" fill="#17313f"/>
<circle cx="954.9" cy="117.9" r="2.1" fill="#17313f"/>
<circle cx="957.2" cy="114.1" r="2.1" fill="#17313f"/>
<circle cx="959.3" cy="112.0" r="2.1" fill="#17313f"/>
<circle cx="960.8" cy="110.9" r="2.1" fill="#17313f"/>
<circle cx="964.0" cy="107.4" r="2.1" fill="#17313f"/>
<circle cx="964.8" cy="106.2" r="2.1" fill="#17313f"/>
<circle cx="967.9" cy="106.0" r="2.1" fill="#17313f"/>
<circle cx="969.7" cy="102.9" r="2.1" fill="#17313f"/>
<circle cx="971.7" cy="103.9" r="2.1" fill="#17313f"/>
<circle cx="974.3" cy="102.9" r="2.1" fill="#17313f"/>
<circle cx="975.8" cy="101.0" r="2.1" fill="#17313f"/>
<circle cx="978.1" cy="101.6" r="2.1" fill="#17313f"/>
<circle cx="980.4" cy="101.1" r="2.1" fill="#17313f"/>
<circle cx="981.6" cy="100.1" r="2.1" fill="#17313f"/>
<circle cx="985.3" cy="100.0" r="2.1" fill="#17313f"/>
<circle cx="987.9" cy="99.6" r="2.1" fill="#17313f"/>
<circle cx="990.5" cy="98.9" r="2.1" fill="#17313f"/>
<circle cx="992.2" cy="97.4" r="2.1" fill="#17313f"/>
<circle cx="995.1" cy="98.2" r="2.1" fill="#17313f"/>
<circle cx="997.9" cy="98.0" r="2.1" fill="#17313f"/>
<circle cx="999.6" cy="97.6" r="2.1" fill="#17313f"/>
<circle cx="1001.7" cy="96.5" r="2.1" fill="#17313f"/>
<circle cx="1003.0" cy="96.6" r="2.1" fill="#17313f"/>
<circle cx="940.0" cy="143.6" r="2.1" fill="#17313f"/>
<circle cx="943.5" cy="143.6" r="2.1" fill="#17313f"/>
<circle cx="994.5" cy="89.2" r="2.1" fill="#17313f"/>
<circle cx="998.5" cy="92.2" r="2.1" fill="#17313f"/>
<circle cx="1010.6" cy="103.3" r="2.1" fill="#17313f"/>
<circle cx="1011.0" cy="112.3" r="2.1" fill="#17313f"/>
<circle cx="1014.1" cy="120.0" r="2.0" fill="#c8437a"/>
<circle cx="1018.9" cy="127.7" r="2.0" fill="#c8437a"/>
<circle cx="1021.9" cy="127.7" r="2.0" fill="#c8437a"/>
<circle cx="1024.0" cy="128.3" r="2.0" fill="#c8437a"/>
<circle cx="1028.7" cy="132.5" r="2.0" fill="#c8437a"/>
<circle cx="1031.0" cy="132.9" r="2.0" fill="#c8437a"/>
<circle cx="1034.3" cy="132.1" r="2.0" fill="#c8437a"/>
<circle cx="1037.4" cy="133.6" r="2.0" fill="#c8437a"/>
<circle cx="1040.3" cy="135.6" r="2.0" fill="#c8437a"/>
<circle cx="1042.9" cy="133.7" r="2.0" fill="#c8437a"/>
<circle cx="1046.5" cy="135.7" r="2.0" fill="#c8437a"/>
<circle cx="1049.2" cy="136.6" r="2.0" fill="#c8437a"/>
<circle cx="1053.3" cy="136.7" r="2.0" fill="#c8437a"/>
<circle cx="1056.3" cy="137.1" r="2.0" fill="#c8437a"/>
<circle cx="1058.6" cy="137.7" r="2.0" fill="#c8437a"/>
<circle cx="1062.1" cy="139.0" r="2.0" fill="#c8437a"/>
<circle cx="1064.7" cy="136.7" r="2.0" fill="#c8437a"/>
<circle cx="1066.9" cy="137.7" r="2.0" fill="#c8437a"/>
<circle cx="1071.1" cy="138.3" r="2.0" fill="#c8437a"/>
<circle cx="1075.8" cy="139.5" r="2.0" fill="#c8437a"/>
<circle cx="1079.5" cy="137.6" r="2.0" fill="#c8437a"/>
<circle cx="1084.4" cy="140.0" r="2.0" fill="#c8437a"/>
<circle cx="1087.4" cy="139.4" r="2.0" fill="#c8437a"/>
<circle cx="1091.8" cy="139.6" r="2.0" fill="#c8437a"/>
<circle cx="1096.1" cy="140.3" r="2.0" fill="#c8437a"/>
<circle cx="1098.4" cy="139.1" r="2.0" fill="#c8437a"/>
<circle cx="1102.5" cy="140.1" r="2.0" fill="#c8437a"/>
<circle cx="1106.2" cy="139.7" r="2.0" fill="#c8437a"/>
<circle cx="1109.5" cy="139.8" r="2.0" fill="#c8437a"/>
<circle cx="1114.1" cy="141.0" r="2.0" fill="#c8437a"/>
<circle cx="1118.2" cy="140.7" r="2.0" fill="#c8437a"/>
<circle cx="1120.7" cy="140.1" r="2.0" fill="#c8437a"/>
<circle cx="1125.2" cy="142.1" r="2.0" fill="#c8437a"/>
<circle cx="1128.7" cy="141.0" r="2.0" fill="#c8437a"/>
<circle cx="1132.5" cy="141.3" r="2.0" fill="#c8437a"/>
<circle cx="1134.9" cy="141.8" r="2.0" fill="#c8437a"/>
<circle cx="1139.7" cy="140.9" r="2.0" fill="#c8437a"/>
<circle cx="1142.7" cy="141.3" r="2.0" fill="#c8437a"/>
<circle cx="1145.5" cy="140.9" r="2.0" fill="#c8437a"/>
<circle cx="1150.1" cy="142.3" r="2.0" fill="#c8437a"/>
<circle cx="1154.3" cy="142.6" r="2.0" fill="#c8437a"/>
<circle cx="1156.6" cy="141.5" r="2.0" fill="#c8437a"/>
<circle cx="1160.3" cy="140.9" r="2.0" fill="#c8437a"/>
<circle cx="1163.9" cy="142.1" r="2.0" fill="#c8437a"/>
<circle cx="1167.8" cy="141.2" r="2.0" fill="#c8437a"/>
<circle cx="1171.7" cy="141.6" r="2.0" fill="#c8437a"/>
<circle cx="1174.7" cy="141.7" r="2.0" fill="#c8437a"/>
<circle cx="1177.0" cy="140.8" r="2.0" fill="#c8437a"/>
<circle cx="1179.2" cy="141.4" r="2.0" fill="#c8437a"/>
<circle cx="1023.7" cy="124.5" r="2.0" fill="#c8437a"/>
<circle cx="1027.0" cy="127.7" r="2.0" fill="#c8437a"/>
<circle cx="1014.0" cy="121.9" r="2.1" fill="#17313f"/>
<circle cx="1015.4" cy="123.8" r="2.1" fill="#17313f"/>
<circle cx="1017.7" cy="127.0" r="2.1" fill="#17313f"/>
<circle cx="1019.0" cy="127.0" r="2.1" fill="#17313f"/>
<circle cx="1020.7" cy="131.2" r="2.1" fill="#17313f"/>
<circle cx="1023.4" cy="131.4" r="2.1" fill="#17313f"/>
<circle cx="1026.0" cy="132.1" r="2.1" fill="#17313f"/>
<circle cx="1029.0" cy="134.4" r="2.1" fill="#17313f"/>
<circle cx="1031.1" cy="135.6" r="2.1" fill="#17313f"/>
<circle cx="1033.4" cy="135.7" r="2.1" fill="#17313f"/>
<circle cx="1035.1" cy="136.6" r="2.1" fill="#17313f"/>
<circle cx="1036.2" cy="136.0" r="2.1" fill="#17313f"/>
<circle cx="1037.9" cy="135.7" r="2.1" fill="#17313f"/>
<circle cx="1039.2" cy="136.6" r="2.1" fill="#17313f"/>
<circle cx="1042.4" cy="137.3" r="2.1" fill="#17313f"/>
<circle cx="1044.6" cy="137.2" r="2.1" fill="#17313f"/>
<circle cx="1047.0" cy="136.9" r="2.1" fill="#17313f"/>
<circle cx="1049.0" cy="136.5" r="2.1" fill="#17313f"/>
<circle cx="1051.0" cy="137.4" r="2.1" fill="#17313f"/>
<circle cx="1054.2" cy="136.9" r="2.1" fill="#17313f"/>
<circle cx="1056.1" cy="139.1" r="2.1" fill="#17313f"/>
<circle cx="1057.8" cy="138.5" r="2.1" fill="#17313f"/>
<circle cx="1059.5" cy="137.7" r="2.1" fill="#17313f"/>
<circle cx="1060.9" cy="138.7" r="2.1" fill="#17313f"/>
<circle cx="1063.5" cy="140.1" r="2.1" fill="#17313f"/>
<circle cx="1065.5" cy="139.4" r="2.1" fill="#17313f"/>
<circle cx="1067.2" cy="139.4" r="2.1" fill="#17313f"/>
<circle cx="1069.0" cy="139.9" r="2.1" fill="#17313f"/>
<circle cx="1070.7" cy="139.4" r="2.1" fill="#17313f"/>
<circle cx="1071.4" cy="139.6" r="2.1" fill="#17313f"/>
<circle cx="1073.3" cy="140.3" r="2.1" fill="#17313f"/>
<circle cx="1075.8" cy="140.4" r="2.1" fill="#17313f"/>
<circle cx="1077.4" cy="141.3" r="2.1" fill="#17313f"/>
<circle cx="1080.1" cy="140.5" r="2.1" fill="#17313f"/>
<circle cx="1082.9" cy="140.7" r="2.1" fill="#17313f"/>
<circle cx="1084.9" cy="140.5" r="2.1" fill="#17313f"/>
<circle cx="1087.3" cy="140.8" r="2.1" fill="#17313f"/>
<circle cx="1089.1" cy="139.0" r="2.1" fill="#17313f"/>
<circle cx="1091.2" cy="141.5" r="2.1" fill="#17313f"/>
<circle cx="1093.7" cy="140.1" r="2.1" fill="#17313f"/>
<circle cx="1095.3" cy="140.8" r="2.1" fill="#17313f"/>
<circle cx="1097.7" cy="139.2" r="2.1" fill="#17313f"/>
<circle cx="1099.3" cy="140.4" r="2.1" fill="#17313f"/>
<circle cx="1101.7" cy="140.2" r="2.1" fill="#17313f"/>
<circle cx="1103.0" cy="140.0" r="2.1" fill="#17313f"/>
<circle cx="1104.5" cy="142.2" r="2.1" fill="#17313f"/>
<circle cx="1106.8" cy="140.3" r="2.1" fill="#17313f"/>
<circle cx="1109.9" cy="140.0" r="2.1" fill="#17313f"/>
<circle cx="1111.4" cy="141.6" r="2.1" fill="#17313f"/>
<circle cx="1112.8" cy="142.1" r="2.1" fill="#17313f"/>
<circle cx="1115.6" cy="141.6" r="2.1" fill="#17313f"/>
<circle cx="1118.1" cy="141.4" r="2.1" fill="#17313f"/>
<circle cx="1120.1" cy="142.5" r="2.1" fill="#17313f"/>
<circle cx="1121.7" cy="140.3" r="2.1" fill="#17313f"/>
<circle cx="1123.8" cy="140.0" r="2.1" fill="#17313f"/>
<circle cx="1124.5" cy="141.8" r="2.1" fill="#17313f"/>
<circle cx="1127.6" cy="143.0" r="2.1" fill="#17313f"/>
<circle cx="1129.4" cy="141.5" r="2.1" fill="#17313f"/>
<circle cx="1131.9" cy="142.3" r="2.1" fill="#17313f"/>
<circle cx="1134.2" cy="142.8" r="2.1" fill="#17313f"/>
<circle cx="1136.8" cy="141.8" r="2.1" fill="#17313f"/>
<circle cx="1139.1" cy="141.8" r="2.1" fill="#17313f"/>
<circle cx="1140.6" cy="141.0" r="2.1" fill="#17313f"/>
<circle cx="1142.7" cy="142.5" r="2.1" fill="#17313f"/>
<circle cx="1144.0" cy="141.9" r="2.1" fill="#17313f"/>
<circle cx="1146.9" cy="142.3" r="2.1" fill="#17313f"/>
<circle cx="1148.4" cy="142.4" r="2.1" fill="#17313f"/>
<circle cx="1150.6" cy="142.3" r="2.1" fill="#17313f"/>
<circle cx="1152.5" cy="142.0" r="2.1" fill="#17313f"/>
<circle cx="1155.4" cy="142.6" r="2.1" fill="#17313f"/>
<circle cx="1158.1" cy="142.3" r="2.1" fill="#17313f"/>
<circle cx="1160.1" cy="142.6" r="2.1" fill="#17313f"/>
<circle cx="1162.0" cy="142.9" r="2.1" fill="#17313f"/>
<circle cx="1164.3" cy="143.1" r="2.1" fill="#17313f"/>
<circle cx="1165.5" cy="141.6" r="2.1" fill="#17313f"/>
<circle cx="1167.4" cy="142.9" r="2.1" fill="#17313f"/>
<circle cx="1168.7" cy="143.4" r="2.1" fill="#17313f"/>
<circle cx="1170.5" cy="142.6" r="2.1" fill="#17313f"/>
<circle cx="1172.8" cy="142.1" r="2.1" fill="#17313f"/>
<circle cx="1174.7" cy="142.7" r="2.1" fill="#17313f"/>
<circle cx="1176.2" cy="142.8" r="2.1" fill="#17313f"/>
<circle cx="1178.6" cy="142.7" r="2.1" fill="#17313f"/>
<circle cx="1009.5" cy="88.1" r="2.0" fill="#c8437a"/>
<circle cx="1010.0" cy="106.3" r="2.0" fill="#c8437a"/>
<line x1="1009.2" y1="31" x2="1009.2" y2="153" stroke="#6e6e6e" stroke-width="2.2" stroke-linecap="round" stroke-dasharray="0 3.8"/>
<rect x="913.6" y="30.0" width="266.9" height="124.30000000000001" fill="none" stroke="#000" stroke-width="2"/>
<line x1="975.1" y1="154.3" x2="975.1" y2="148.8" stroke="#000" stroke-width="2" />
<line x1="1063.0" y1="154.3" x2="1063.0" y2="148.8" stroke="#000" stroke-width="2" />
<line x1="1150.8999999999999" y1="154.3" x2="1150.8999999999999" y2="148.8" stroke="#000" stroke-width="2" />
<line x1="913.6" y1="41.800000000000004" x2="919.1" y2="41.800000000000004" stroke="#000" stroke-width="2" />
<text x="911" y="48.400000000000006" font-size="16.5" text-anchor="end" fill="#262626" stroke="#262626" >10</text>
<line x1="913.6" y1="78.4" x2="919.1" y2="78.4" stroke="#000" stroke-width="2" />
<text x="911" y="85.0" font-size="16.5" text-anchor="end" fill="#262626" stroke="#262626" >1</text>
<line x1="913.6" y1="115.0" x2="919.1" y2="115.0" stroke="#000" stroke-width="2" />
<text x="911" y="121.6" font-size="16.5" text-anchor="end" fill="#262626" stroke="#262626" >0.1</text>
<line x1="913.6" y1="151.60000000000002" x2="919.1" y2="151.60000000000002" stroke="#000" stroke-width="2" />
<text x="911" y="158.20000000000002" font-size="16.5" text-anchor="end" fill="#262626" stroke="#262626" >0.01</text>
<text x="962.2" y="135.2" font-size="16.5" text-anchor="start" fill="#262626" stroke="#262626" textLength="30.6" lengthAdjust="spacingAndGlyphs" >total</text>
<text x="1126.3" y="49" font-size="16.5" text-anchor="start" fill="#6eb0a4" stroke="#6eb0a4" textLength="8" lengthAdjust="spacingAndGlyphs" >ii</text>
<text x="1126.3" y="84.2" font-size="16.5" text-anchor="start" fill="#e6b48b" stroke="#e6b48b" textLength="17" lengthAdjust="spacingAndGlyphs" >ad</text>
<text x="1126.3" y="131.6" font-size="16.5" text-anchor="start" fill="#cf6596" stroke="#cf6596" textLength="17.5" lengthAdjust="spacingAndGlyphs" >po</text>
<text transform="translate(872.3,120.6) rotate(-90)" x="0" y="0" font-size="16.5" fill="#262626" textLength="53.5" lengthAdjust="spacingAndGlyphs"><tspan font-style="italic">τ</tspan><tspan font-size="11" dy="3" font-style="italic">nk</tspan><tspan dy="-3"> (ps)</tspan></text>
<path d="M944.3 288.6 L944.7 288.3 L945.1 288.0 L945.5 287.6 L945.9 287.3 L946.3 286.9 L946.7 286.5 L947.1 286.2 L947.5 285.8 L947.9 285.4 L948.3 284.9 L948.7 284.5 L949.1 284.1 L949.5 283.6 L949.9 283.2 L950.3 282.7 L950.7 282.2 L951.1 281.7 L951.5 281.2 L951.9 280.6 L952.3 280.1 L952.7 279.5 L953.1 278.9 L953.5 278.3 L953.9 277.7 L954.3 277.1 L954.7 276.5 L955.1 275.8 L955.5 275.2 L955.9 274.5 L956.3 273.8 L956.7 273.1 L957.1 272.4 L957.5 271.6 L957.9 270.9 L958.3 270.1 L958.7 269.3 L959.1 268.5 L959.5 267.7 L959.9 266.9 L960.2 266.0 L960.6 265.2 L961.0 264.3 L961.4 263.4 L961.8 262.5 L962.2 261.6 L962.6 260.6 L963.0 259.7 L963.4 258.7 L963.8 257.7 L964.2 256.8 L964.6 255.8 L965.0 254.7 L965.4 253.7 L965.8 252.7 L966.2 251.6 L966.6 250.6 L967.0 249.5 L967.4 248.4 L967.8 247.3 L968.2 246.2 L968.6 245.1 L969.0 244.0 L969.4 242.8 L969.8 241.7 L970.2 240.5 L970.6 239.4 L971.0 238.2 L971.4 237.1 L971.8 235.9 L972.2 234.7 L972.6 233.5 L973.0 232.3 L973.4 231.1 L973.8 230.0 L974.2 228.8 L974.6 227.6 L975.0 226.4 L975.4 225.2 L975.8 224.0 L976.2 222.8 L976.6 221.6 L977.0 220.5 L977.4 219.3 L977.8 218.1 L978.2 216.9 L978.6 215.8 L979.0 214.6 L979.4 213.5 L979.8 212.4 L980.2 211.2 L980.6 210.1 L981.0 209.0 L981.4 207.9 L981.8 206.9 L982.2 205.8 L982.6 204.8 L983.0 203.7 L983.4 202.7 L983.8 201.7 L984.2 200.8 L984.6 199.8 L985.0 198.9 L985.4 197.9 L985.8 197.0 L986.2 196.2 L986.6 195.3 L987.0 194.5 L987.4 193.7 L987.8 192.9 L988.2 192.2 L988.6 191.4 L989.0 190.7 L989.4 190.0 L989.8 189.4 L990.2 188.8 L990.6 188.2 L991.0 187.6 L991.4 187.1 L991.8 186.6 L992.1 186.1 L992.5 185.7 L992.9 185.3 L993.3 184.9 L993.7 184.6 L994.1 184.3 L994.5 184.0 L994.9 183.8 L995.3 183.5 L995.7 183.4 L996.1 183.2 L996.5 183.1 L996.9 183.0 L997.3 183.0 L997.7 183.0 L998.1 183.1 L998.5 183.3 L998.9 183.6 L999.3 183.9 L999.7 184.4 L1000.1 185.0 L1000.5 185.6 L1000.9 186.4 L1001.3 187.2 L1001.7 188.2 L1002.1 189.2 L1002.5 190.3 L1002.9 191.5 L1003.3 192.7 L1003.7 194.1 L1004.1 195.5 L1004.5 196.9 L1004.9 198.4 L1005.3 200.0 L1005.7 201.7 L1006.1 203.4 L1006.5 205.1 L1006.9 206.9 L1007.3 208.7 L1007.7 210.5 L1008.1 212.4 L1008.5 214.3 L1008.9 216.2 L1009.3 218.1 L1009.7 220.1 L1010.1 222.1 L1010.5 224.0 L1010.9 226.0 L1011.3 227.9 L1011.7 229.9 L1012.1 231.8 L1012.5 233.8 L1012.9 235.7 L1013.3 237.6 L1013.7 239.5 L1014.1 241.3 L1014.5 243.1 L1014.9 244.9 L1015.3 246.7 L1015.7 248.4 L1016.1 250.1 L1016.5 251.8 L1016.9 253.4 L1017.3 255.0 L1017.7 256.5 L1018.1 258.0 L1018.5 259.5 L1018.9 260.9 L1019.3 262.3 L1019.7 263.6 L1020.1 264.9 L1020.5 266.1 L1020.9 267.3 L1021.3 268.4 L1021.7 269.5 L1022.1 270.6 L1022.5 271.6 L1022.9 272.6 L1023.3 273.5 L1023.7 274.4 L1024.0 275.3 L1024.4 276.1 L1024.8 276.9 L1025.2 277.6 L1025.6 278.3 L1026.0 279.0 L1026.4 279.6 L1026.8 280.2 L1027.2 280.8 L1027.6 281.3 L1028.0 281.8 L1028.4 282.3 L1028.8 282.7 L1029.2 283.1 L1029.6 283.5 L1030.0 283.9 L1030.4 284.2 L1030.8 284.6 L1031.2 284.9 L1031.6 285.2 L1032.0 285.4 L1032.4 285.7 L1032.8 285.9 L1033.2 286.1 L1033.6 286.3 L1034.0 286.5 L1034.4 286.7 L1034.8 286.8 L1035.2 287.0 L1035.6 287.1 L1036.0 287.3 L1036.4 287.4 L1036.8 287.5 L1037.2 287.6 L1037.6 287.7 L1038.0 287.8 L1038.4 287.8 L1038.8 287.9 L1039.2 288.0 L1039.6 288.0 L1040.0 288.1" fill="none" stroke="#c83c73" stroke-width="2.2" stroke-dasharray="7 4"/>
<path d="M952.0 288.6 L953.0 288.6 L954.0 288.6 L955.0 288.6 L956.0 288.6 L957.0 288.5 L958.0 288.5 L959.0 288.5 L960.0 288.5 L961.0 288.4 L962.0 288.4 L963.0 288.3 L964.0 288.2 L965.0 288.2 L966.0 288.1 L967.0 288.0 L968.0 287.9 L969.0 287.8 L970.0 287.7 L971.0 287.5 L972.0 287.4 L973.0 287.2 L974.0 287.1 L975.0 286.9 L976.0 286.7 L977.0 286.5 L978.0 286.3 L979.0 286.1 L980.0 285.8 L981.0 285.6 L982.0 285.3 L983.0 285.0 L984.0 284.7 L985.0 284.4 L986.0 284.1 L987.0 283.7 L988.0 283.4 L989.0 283.0 L990.0 282.6 L991.0 282.2 L992.0 281.8 L993.0 281.3 L994.0 280.9 L995.0 280.4 L996.0 279.9 L997.0 279.4 L998.0 278.8 L999.0 278.3 L1000.0 277.7 L1001.0 277.1 L1002.0 276.5 L1003.0 275.9 L1004.0 275.2 L1005.0 274.6 L1006.0 273.9 L1007.0 273.2 L1008.0 272.4 L1009.0 271.7 L1010.0 270.9 L1011.0 270.1 L1012.0 269.3 L1013.0 268.4 L1014.0 267.6 L1015.0 266.7 L1016.0 265.8 L1017.0 264.8 L1018.0 263.9 L1019.0 262.9 L1020.0 261.9 L1021.0 260.8 L1022.0 259.8 L1023.0 258.7 L1024.0 257.6 L1025.0 256.5 L1026.0 255.3 L1027.0 254.1 L1028.0 252.9 L1029.0 251.7 L1030.0 250.4 L1031.0 249.1 L1032.0 247.8 L1033.0 246.5 L1034.0 245.1 L1035.0 243.7 L1036.0 242.3 L1037.0 240.8 L1038.0 239.3 L1039.0 237.8 L1040.0 236.3 L1041.0 234.7 L1042.0 233.1 L1043.0 231.5 L1044.0 229.9 L1045.0 228.2 L1046.0 226.5 L1047.0 224.7 L1048.0 222.9 L1049.0 221.1 L1050.0 219.3 L1051.0 217.4 L1052.0 215.5 L1053.0 213.6 L1054.0 211.7 L1055.0 209.7 L1056.0 207.6 L1057.0 205.6 L1058.0 203.5 L1059.0 201.4 L1060.0 199.2 L1061.0 197.0 L1062.0 194.8 L1063.0 192.6 L1064.0 190.3 L1065.0 188.0 L1066.0 185.6 L1067.0 183.2 L1068.0 180.8 L1069.0 178.4 L1070.0 175.9" fill="none" stroke="#4fa596" stroke-width="2.2" stroke-dasharray="7 4"/>
<path d="M944.4 288.6 L946.8 287.1 L949.1 286.0 L951.5 285.0 L953.8 284.1 L956.2 283.2 L958.5 282.4 L960.9 281.6 L963.2 280.8 L965.6 280.1 L968.0 279.3 L970.3 278.6 L972.7 277.9 L975.0 277.2 L977.4 276.6 L979.7 275.9 L982.1 275.2 L984.5 274.6 L986.8 274.0 L989.2 273.3 L991.5 272.7 L993.9 272.1 L996.2 271.5 L998.6 270.9 L1000.9 270.3 L1003.3 269.7 L1005.7 269.1 L1008.0 268.5 L1010.4 267.9 L1012.7 267.4 L1015.1 266.8 L1017.4 266.2 L1019.8 265.7 L1022.1 265.1 L1024.5 264.6 L1026.9 264.0 L1029.2 263.5 L1031.6 262.9 L1033.9 262.4 L1036.3 261.8 L1038.6 261.3 L1041.0 260.8 L1043.4 260.2 L1045.7 259.7 L1048.1 259.2 L1050.4 258.7 L1052.8 258.2 L1055.1 257.6 L1057.5 257.1 L1059.8 256.6 L1062.2 256.1 L1064.6 255.6 L1066.9 255.1 L1069.3 254.6 L1071.6 254.1 L1074.0 253.6 L1076.3 253.1 L1078.7 252.6 L1081.0 252.1 L1083.4 251.6 L1085.8 251.2 L1088.1 250.7 L1090.5 250.2 L1092.8 249.7 L1095.2 249.2 L1097.5 248.7 L1099.9 248.3 L1102.3 247.8 L1104.6 247.3 L1107.0 246.8 L1109.3 246.4 L1111.7 245.9 L1114.0 245.4 L1116.4 245.0 L1118.7 244.5 L1121.1 244.0 L1123.5 243.6 L1125.8 243.1 L1128.2 242.6 L1130.5 242.2 L1132.9 241.7 L1135.2 241.3 L1137.6 240.8 L1139.9 240.4 L1142.3 239.9 L1144.7 239.5 L1147.0 239.0 L1149.4 238.6 L1151.7 238.1 L1154.1 237.7 L1156.4 237.2 L1158.8 236.8 L1161.2 236.3 L1163.5 235.9 L1165.9 235.4 L1168.2 235.0 L1170.6 234.6 L1172.9 234.1 L1175.3 233.7 L1177.6 233.3 L1180.0 232.8" fill="none" stroke="#e9a26f" stroke-width="2.2" stroke-dasharray="7 4"/>
<path d="M914.0 288.6 L916.0 288.6 L918.0 288.6 L920.0 288.6 L922.0 288.6 L924.0 288.6 L926.0 288.6 L928.0 288.6 L930.0 288.6 L932.0 288.6 L934.0 288.6 L936.0 288.6 L938.0 288.6 L940.0 288.6 L942.0 288.6 L944.0 288.6 L946.0 288.6 L948.0 288.6 L950.0 288.6 L952.0 288.6 L954.0 288.6 L956.0 288.5 L958.0 288.5 L960.0 288.5 L962.0 288.4 L964.0 288.3 L966.0 288.2 L968.0 288.1 L970.0 287.9 L972.0 287.7 L974.0 287.5 L976.0 287.2 L978.0 286.9 L980.0 286.5 L982.0 286.1 L984.0 285.7 L986.0 285.3 L988.0 284.9 L990.0 284.5 L992.0 284.2 L994.0 283.9 L996.0 283.7 L998.0 283.6 L1000.0 283.6 L1002.0 283.6 L1004.0 283.8 L1006.0 284.0 L1008.0 284.3 L1010.0 284.7 L1012.0 285.0 L1014.0 285.4 L1016.0 285.8 L1018.0 286.2 L1020.0 286.5 L1022.0 286.8 L1024.0 287.1 L1026.0 287.3 L1028.0 287.5 L1030.0 287.7 L1032.0 287.8 L1034.0 287.9 L1036.0 288.0 L1038.0 288.0 L1040.0 288.0 L1042.0 288.0 L1044.0 288.0 L1046.0 288.0 L1048.0 288.0 L1050.0 288.0 L1052.0 288.0 L1054.0 287.9 L1056.0 287.9 L1058.0 287.9 L1060.0 287.9 L1062.0 287.8 L1064.0 287.8 L1066.0 287.8 L1068.0 287.7 L1070.0 287.7 L1072.0 287.7 L1074.0 287.7 L1076.0 287.6 L1078.0 287.6 L1080.0 287.6 L1082.0 287.5 L1084.0 287.5 L1086.0 287.5 L1088.0 287.4 L1090.0 287.4 L1092.0 287.4 L1094.0 287.4 L1096.0 287.3 L1098.0 287.3 L1100.0 287.3 L1102.0 287.2 L1104.0 287.2 L1106.0 287.2 L1108.0 287.2 L1110.0 287.1 L1112.0 287.1 L1114.0 287.1 L1116.0 287.0 L1118.0 287.0 L1120.0 287.0 L1122.0 286.9 L1124.0 286.9 L1126.0 286.9 L1128.0 286.9 L1130.0 286.8 L1132.0 286.8 L1134.0 286.8 L1136.0 286.7 L1138.0 286.7 L1140.0 286.7 L1142.0 286.7 L1144.0 286.6 L1146.0 286.6 L1148.0 286.6 L1150.0 286.5 L1152.0 286.5 L1154.0 286.5 L1156.0 286.4 L1158.0 286.4 L1160.0 286.4 L1162.0 286.4 L1164.0 286.3 L1166.0 286.3 L1168.0 286.3 L1170.0 286.2 L1172.0 286.2 L1174.0 286.2 L1176.0 286.2 L1178.0 286.1 L1180.0 286.1" fill="none" stroke="#1b3242" stroke-width="2.3" />
<rect x="913.6" y="174.5" width="266.9" height="124.0" fill="none" stroke="#000" stroke-width="2"/>
<line x1="975.1" y1="298.5" x2="975.1" y2="293.0" stroke="#000" stroke-width="2" />
<text x="975.1" y="317.6" font-size="16.5" text-anchor="middle" fill="#262626" stroke="#262626" textLength="19" lengthAdjust="spacingAndGlyphs" >3.1</text>
<line x1="1063.0" y1="298.5" x2="1063.0" y2="293.0" stroke="#000" stroke-width="2" />
<text x="1063.0" y="317.6" font-size="16.5" text-anchor="middle" fill="#262626" stroke="#262626" textLength="19" lengthAdjust="spacingAndGlyphs" >3.2</text>
<line x1="1150.8999999999999" y1="298.5" x2="1150.8999999999999" y2="293.0" stroke="#000" stroke-width="2" />
<text x="1150.8999999999999" y="317.6" font-size="16.5" text-anchor="middle" fill="#262626" stroke="#262626" textLength="19" lengthAdjust="spacingAndGlyphs" >3.3</text>
<line x1="913.6" y1="288.6" x2="919.1" y2="288.6" stroke="#000" stroke-width="2" />
<text x="910.5" y="295.20000000000005" font-size="16.5" text-anchor="end" fill="#262626" stroke="#262626" >0</text>
<line x1="913.6" y1="255.60000000000002" x2="919.1" y2="255.60000000000002" stroke="#000" stroke-width="2" />
<text x="910.5" y="262.20000000000005" font-size="16.5" text-anchor="end" fill="#262626" stroke="#262626" >50</text>
<line x1="913.6" y1="222.60000000000002" x2="919.1" y2="222.60000000000002" stroke="#000" stroke-width="2" />
<text x="910.5" y="229.20000000000002" font-size="16.5" text-anchor="end" fill="#262626" stroke="#262626" >100</text>
<line x1="913.6" y1="189.60000000000002" x2="919.1" y2="189.60000000000002" stroke="#000" stroke-width="2" />
<text x="910.5" y="196.20000000000002" font-size="16.5" text-anchor="end" fill="#262626" stroke="#262626" >150</text>
<text x="1124.4" y="199.6" font-size="16.5" text-anchor="start" fill="#262626" stroke="#262626" textLength="42.3" lengthAdjust="spacingAndGlyphs" >300 K</text>
<text x="1005" y="340.6" font-size="16.5" text-anchor="start" fill="#262626" stroke="#262626" textLength="82.5" lengthAdjust="spacingAndGlyphs" >Energy (eV)</text>
<text transform="translate(873,263) rotate(-90)" x="0" y="0" font-size="16.5" fill="#262626" textLength="55" lengthAdjust="spacingAndGlyphs">Σ (a.u.)</text>
</svg></body></html>
